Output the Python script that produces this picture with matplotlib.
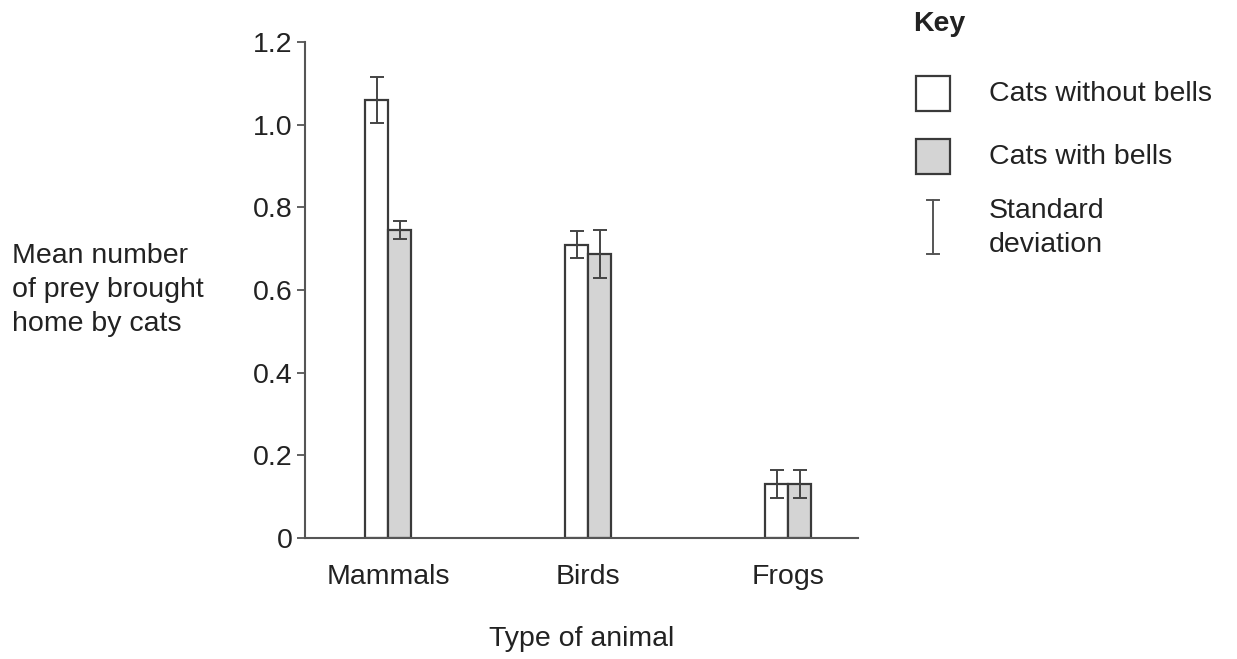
import matplotlib.pyplot as plt
from matplotlib.patches import Rectangle
from matplotlib.lines import Line2D
import numpy as np

plt.rcParams['font.family'] = ['Liberation Sans', 'DejaVu Sans']

# data
categories = ['Mammals', 'Birds', 'Frogs']
no_bell_mean = [1.06, 0.71, 0.13]
no_bell_sd = [0.055, 0.032, 0.034]
bell_mean = [0.745, 0.687, 0.13]
bell_sd = [0.022, 0.057, 0.034]
y_ticks = [0, 0.2, 0.4, 0.6, 0.8, 1.0, 1.2]
y_tick_labels = ['0', '0.2', '0.4', '0.6', '0.8', '1.0', '1.2']

W, H = 1237, 659
EDGE = '#3a3a3a'
GREY = '#d4d4d4'
FS = 20.5

fig = plt.figure(figsize=(W / 100, H / 100), dpi=100)


def px(x, y):
    # pixel coords (top-left origin) -> figure fraction
    return x / W, 1 - y / H


left, top = px(305, 42)
right, bottom = px(858, 538)
ax = fig.add_axes([left, bottom, right - left, top - bottom])

x = np.arange(len(categories))
bw = 0.115
ax.bar(x - bw / 2, no_bell_mean, bw, color='white', edgecolor=EDGE, linewidth=1.6, zorder=2)
ax.bar(x + bw / 2, bell_mean, bw, color=GREY, edgecolor=EDGE, linewidth=1.6, zorder=2)
ax.errorbar(x - bw / 2, no_bell_mean, yerr=no_bell_sd, fmt='none', ecolor='#444444',
            elinewidth=1.4, capsize=4.7, capthick=1.4, zorder=3)
ax.errorbar(x + bw / 2, bell_mean, yerr=bell_sd, fmt='none', ecolor='#444444',
            elinewidth=1.4, capsize=4.7, capthick=1.4, zorder=3)

ax.set_xlim(-0.415, 2.35)
ax.set_ylim(0, 1.2)
ax.set_yticks(y_ticks)
ax.set_yticklabels(y_tick_labels)
ax.set_xticks(x)
ax.set_xticklabels(categories)
ax.tick_params(axis='y', length=6, width=1.3, color='#555555', labelsize=FS, pad=3,
               labelcolor='#222222')
ax.tick_params(axis='x', length=0, labelsize=FS, pad=19, labelcolor='#222222')
for s in ['top', 'right']:
    ax.spines[s].set_visible(False)
for s in ['left', 'bottom']:
    ax.spines[s].set_color('#555555')
    ax.spines[s].set_linewidth(1.5)

ax.set_xlabel('Type of animal', fontsize=FS, color='#222222', labelpad=26)

tx, ty = px(12, 290)
fig.text(tx, ty, 'Mean number\nof prey brought\nhome by cats', fontsize=FS,
         color='#222222', ha='left', va='center', linespacing=1.4)

# key
kx, ky = px(913, 24)
fig.text(kx, ky, 'Key', fontsize=FS, fontweight='bold', color='#222222', va='center')
for (y0, fc), label in zip([(76, 'white'), (139, GREY)],
                           ['Cats without bells', 'Cats with bells']):
    bx, by = px(916, y0 + 35)
    fig.patches.append(Rectangle((bx, by), 34 / W, 35 / H, transform=fig.transFigure,
                                 facecolor=fc, edgecolor=EDGE, linewidth=1.6))
    lx, ly = px(989, y0 + 18)
    fig.text(lx, ly, label, fontsize=FS, color='#222222', va='center')

ex, e0 = px(933, 200)
_, e1 = px(933, 254)
cw = 6 / W
fig.lines.append(Line2D([ex, ex], [e0, e1], transform=fig.transFigure, color='#555555', lw=1.4))
for ee in (e0, e1):
    fig.lines.append(Line2D([ex - cw, ex + cw], [ee, ee], transform=fig.transFigure,
                            color='#555555', lw=1.4))
sx, sy = px(989, 228)
fig.text(sx, sy, 'Standard\ndeviation', fontsize=FS, color='#222222', va='center',
         linespacing=1.4)

fig.savefig('out.png', dpi=100)
